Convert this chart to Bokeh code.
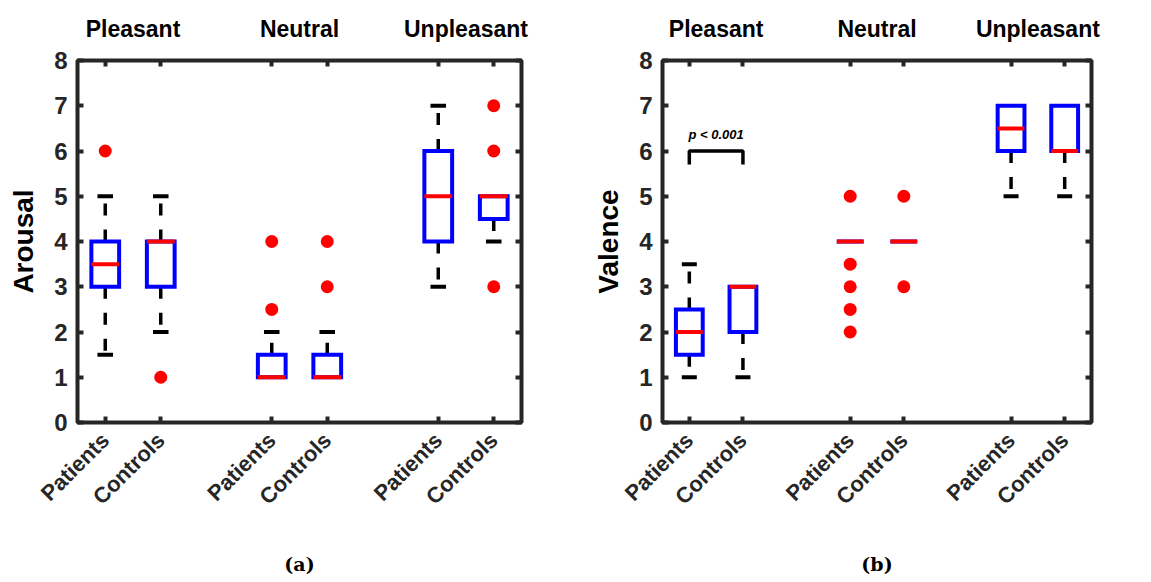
import math
from bokeh.plotting import figure
from bokeh.layouts import row
from bokeh.models import FixedTicker, LinearAxis, Range1d, ColumnDataSource
from bokeh.core.properties import value
from bokeh.embed import file_html
from bokeh.resources import INLINE

# ---------------- data ----------------
groups = ["Pleasant", "Neutral", "Unpleasant"]
group_pos = [1.5, 4.5, 7.5]
subjects = ["Patients", "Controls", "Patients", "Controls", "Patients", "Controls"]
positions = [1, 2, 4, 5, 7, 8]
y_ticks = [0, 1, 2, 3, 4, 5, 6, 7, 8]

# Arousal (panel a)
ar_q1 = [3, 3, 1, 1, 4, 4.5]
ar_med = [3.5, 4, 1, 1, 5, 5]
ar_q3 = [4, 4, 1.5, 1.5, 6, 5]
ar_lo = [1.5, 2, 1, 1, 3, 4]
ar_hi = [5, 5, 2, 2, 7, 5]
ar_out = [[6], [1], [4, 2.5], [4, 3], [], [7, 6, 3]]

# Valence (panel b)
va_q1 = [1.5, 2, 4, 4, 6, 6]
va_med = [2, 3, 4, 4, 6.5, 6]
va_q3 = [2.5, 3, 4, 4, 7, 7]
va_lo = [1, 1, 4, 4, 5, 5]
va_hi = [3.5, 3, 4, 4, 7, 7]
va_out = [[], [], [5, 3.5, 3, 2.5, 2], [5, 3], [], []]

# significance annotation (panel b)
sig_pair = [1, 2]
sig_level = 6.0
sig_drop = 5.7
sig_text = "p < 0.001"

SANS = "Liberation Sans"
DARK = "#262626"
BOX_W = 0.25
CAP_W = 0.14
H = 578


def make_panel(q1, med, q3, lo, hi, out, ylabel, caption, width, mbl, mbr, mbt, mbb):
    p = figure(width=width, height=H, x_range=Range1d(0.5, 8.5), y_range=Range1d(0, 8),
               output_backend="svg", toolbar_location=None,
               min_border_left=mbl, min_border_right=mbr, min_border_top=mbt,
               min_border_bottom=mbb)
    p.grid.visible = False
    p.outline_line_color = DARK
    p.outline_line_width = 4
    p.background_fill_color = "white"
    p.border_fill_color = "white"

    # left axis
    ya = p.yaxis[0]
    ya.ticker = FixedTicker(ticks=y_ticks)
    ya.axis_line_color = None
    ya.major_tick_in = 6
    ya.major_tick_out = 0
    ya.major_tick_line_width = 4
    ya.major_tick_line_color = DARK
    ya.minor_tick_line_color = None
    ya.major_label_text_font = SANS
    ya.major_label_text_font_style = "bold"
    ya.major_label_text_font_size = "24px"
    ya.major_label_text_color = DARK
    ya.major_label_standoff = 10
    ya.axis_label = ylabel
    ya.axis_label_text_font = SANS
    ya.axis_label_text_font_style = "bold"
    ya.axis_label_text_font_size = "28px"
    ya.axis_label_text_color = "black"
    ya.axis_label_standoff = 12

    # bottom axis
    xa = p.xaxis[0]
    xa.ticker = FixedTicker(ticks=positions)
    xa.major_label_overrides = {pos: s for pos, s in zip(positions, subjects)}
    xa.axis_line_color = None
    xa.major_tick_in = 6
    xa.major_tick_out = 0
    xa.major_tick_line_width = 4
    xa.major_tick_line_color = DARK
    xa.minor_tick_line_color = None
    xa.major_label_orientation = math.pi / 4
    xa.major_label_text_font = SANS
    xa.major_label_text_font_style = "bold"
    xa.major_label_text_font_size = "22px"
    xa.major_label_text_color = DARK
    xa.major_label_text_align = "right"
    xa.major_label_text_baseline = "top"
    xa.major_label_standoff = 14
    xa.axis_label = caption
    xa.axis_label_text_font = "DejaVu Serif"
    xa.axis_label_text_font_style = "bold"
    xa.axis_label_text_font_size = "19px"
    xa.axis_label_text_color = "black"
    xa.axis_label_standoff = 32

    # top axis: group names + inward ticks
    ta = LinearAxis(ticker=FixedTicker(ticks=group_pos, minor_ticks=positions),
                    major_label_overrides={gp: g for gp, g in zip(group_pos, groups)})
    ta.axis_line_color = None
    ta.major_tick_in = 0
    ta.major_tick_out = 0
    ta.major_tick_line_color = None
    ta.minor_tick_in = 6
    ta.minor_tick_out = 0
    ta.minor_tick_line_width = 4
    ta.minor_tick_line_color = DARK
    ta.major_label_text_font = SANS
    ta.major_label_text_font_style = "bold"
    ta.major_label_text_font_size = "23px"
    ta.major_label_text_color = "black"
    ta.major_label_standoff = 19
    p.add_layout(ta, "above")

    # right axis: inward ticks only (minor ticks, so no labels)
    ra = LinearAxis(ticker=FixedTicker(ticks=[], minor_ticks=y_ticks))
    ra.axis_line_color = None
    ra.major_tick_line_color = None
    ra.minor_tick_in = 6
    ra.minor_tick_out = 0
    ra.minor_tick_line_width = 4
    ra.minor_tick_line_color = DARK
    p.add_layout(ra, "right")

    # whiskers (dashed, from box edge outward)
    wx, wy0, wy1 = [], [], []
    cx0, cx1, cy = [], [], []
    for x, a, b, l, h in zip(positions, q1, q3, lo, hi):
        if h > b:
            wx.append(x); wy0.append(b); wy1.append(h)
            cx0.append(x - CAP_W); cx1.append(x + CAP_W); cy.append(h)
        if l < a:
            wx.append(x); wy0.append(a); wy1.append(l)
            cx0.append(x - CAP_W); cx1.append(x + CAP_W); cy.append(l)
    p.segment(x0=wx, y0=wy0, x1=wx, y1=wy1, line_color="black", line_width=3.5,
              line_dash="12 14")
    p.segment(x0=cx0, y0=cy, x1=cx1, y1=cy, line_color="black", line_width=4)

    # boxes
    src = ColumnDataSource(dict(left=[x - BOX_W for x in positions],
                                right=[x + BOX_W for x in positions],
                                bottom=q1, top=q3, med=med))
    p.quad(left="left", right="right", bottom="bottom", top="top", source=src,
           fill_color=None, line_color="#0000FF", line_width=4, line_join="miter")
    p.segment(x0="left", x1="right", y0="med", y1="med", source=src,
              line_color="#FF0000", line_width=4)

    # outliers
    ox, oy = [], []
    for x, vals in zip(positions, out):
        for v in vals:
            ox.append(x); oy.append(v)
    p.scatter(x=ox, y=oy, size=13, fill_color="#FF0000", line_color=None)
    return p


pa = make_panel(ar_q1, ar_med, ar_q3, ar_lo, ar_hi, ar_out, "Arousal", "(a)",
                583, 77, 62, 57, H - 422)
pb = make_panel(va_q1, va_med, va_q3, va_lo, va_hi, va_out, "Valence", "(b)",
                552, 79, 44, 60, H - 425)

# significance bracket
pb.line(x=[sig_pair[0], sig_pair[0], sig_pair[1], sig_pair[1]],
        y=[sig_drop, sig_level, sig_level, sig_drop], line_color="black", line_width=3.5)
pb.text(x=[sum(sig_pair) / 2], y=[sig_level + 0.2], text=[sig_text],
        text_font=value("Liberation Sans"), text_font_style="bold italic",
        text_font_size="13px", text_align="center", text_baseline="bottom",
        text_color="black")

layout = row(pa, pb)
open("out.html", "w").write(file_html(layout, INLINE))
